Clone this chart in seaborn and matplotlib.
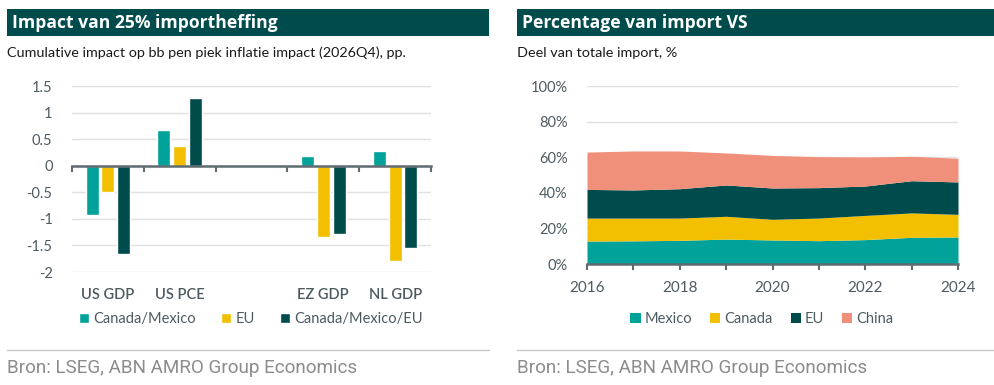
import matplotlib
matplotlib.use("Agg")
import matplotlib.pyplot as plt
import pandas as pd
import seaborn as sns
from matplotlib.patches import Rectangle
from matplotlib.lines import Line2D
from matplotlib.ticker import PercentFormatter, FixedLocator, MultipleLocator

# left chart: impact of 25% tariff, pp
variables = ["US GDP", "US PCE", "", "EZ GDP", "NL GDP"]
canada_mexico = [-0.93, 0.68, None, 0.18, 0.27]
eu = [-0.50, 0.37, None, -1.34, -1.79]
canada_mexico_eu = [-1.67, 1.28, None, -1.28, -1.55]
scenarios = ["Canada/Mexico", "EU", "Canada/Mexico/EU"]

# right chart: share of US imports, %
years = [2016, 2017, 2018, 2019, 2020, 2021, 2022, 2023, 2024]
mexico = [12.9, 13.0, 13.3, 14.0, 13.5, 13.1, 13.7, 15.0, 15.2]
canada = [12.9, 12.8, 12.5, 12.8, 11.6, 12.7, 13.6, 13.7, 12.7]
eu_share = [16.1, 15.8, 16.5, 17.6, 17.6, 17.1, 16.5, 18.1, 18.2]
china = [21.0, 21.9, 21.2, 18.0, 18.3, 17.4, 16.3, 13.7, 13.3]
regions = ["Mexico", "Canada", "EU", "China"]

TEAL = "#00a29a"
YELLOW = "#f2c000"
DARK = "#004b4b"
SALMON = "#f0907b"
TXT = "#4d5b61"
GRID = "#e0e0e0"

sns.set_theme(style="white")
plt.rcParams["font.family"] = ["Lato", "DejaVu Sans"]

W, H = 994, 385
fig = plt.figure(figsize=(W / 100, H / 100), dpi=100)

def fx(px):
    return px / W

def fy(px):
    return 1 - px / H

# header bars, subtitles, footers
for x0, x1, title, sub in [(7, 489, "Impact van 25% importheffing",
                            "Cumulative impact op bb pen piek inflatie impact (2026Q4), pp."),
                           (517, 994, "Percentage van import VS", "Deel van totale import, %")]:
    fig.add_artist(Rectangle((fx(x0), fy(36)), fx(x1 - x0), 27 / H, color=DARK, lw=0))
    fig.text(fx(x0 + 5), fy(22.5), title, color="white", fontsize=12.6, fontweight="bold",
             family=["Open Sans", "DejaVu Sans"], va="center", ha="left")
    fig.text(fx(x0), fy(53), sub, color="#1a1a1a", fontsize=10.4, va="center", ha="left")
    fig.add_artist(Line2D([fx(x0), fx(x1)], [fy(350), fy(350)], color="#c8c8c8", lw=1))
    fig.text(fx(x0), fy(368), "Bron: LSEG, ABN AMRO Group Economics", color="#8c8c8c",
             fontsize=13.6, family=["Roboto", "DejaVu Sans"], va="center", ha="left")

# ---- left: grouped bars
df = pd.DataFrame({"variable": variables * 3,
                   "scenario": [s for s in scenarios for _ in variables],
                   "value": canada_mexico + eu + canada_mexico_eu})
ax1 = fig.add_axes([fx(72), fy(272), fx(431 - 72), (272 - 86) / H])
sns.barplot(data=df, x="variable", y="value", hue="scenario", order=variables,
            hue_order=scenarios, palette=[TEAL, YELLOW, DARK], width=0.66, gap=0.18,
            saturation=1, errorbar=None, ax=ax1, zorder=3)
ax1.set_xlim(-0.5, len(variables) - 0.5)
ax1.set_ylim(-2, 1.5)
ax1.yaxis.set_major_locator(MultipleLocator(0.5))
ax1.yaxis.set_major_formatter(matplotlib.ticker.FuncFormatter(lambda v, p: f"{v:g}"))
ax1.grid(axis="y", color=GRID, lw=1, zorder=0)
for s in ["top", "right", "left"]:
    ax1.spines[s].set_visible(False)
ax1.spines["bottom"].set_position(("data", 0))
ax1.spines["bottom"].set_color("#5f6b70")
ax1.spines["bottom"].set_linewidth(1.8)
ax1.spines["bottom"].set_zorder(4)
ax1.xaxis.set_minor_locator(FixedLocator([i - 0.5 for i in range(len(variables) + 1)]))
ax1.tick_params(axis="x", which="minor", bottom=True, length=4, width=1.5, color="#5f6b70",
                direction="out")
ax1.tick_params(axis="x", which="major", bottom=True, length=0, pad=88, labelsize=10.5,
                labelcolor=TXT)
for lab in ax1.get_xticklabels():
    lab.set_fontweight("semibold")
ax1.tick_params(axis="y", length=0, pad=14, labelsize=10.5, labelcolor=TXT)
ax1.set_xlabel("")
ax1.set_ylabel("")
h, l = ax1.get_legend_handles_labels()
ax1.get_legend().remove()
fig.legend(h, l, loc="center", bbox_to_anchor=(fx(251), fy(319)), ncol=3, frameon=False,
           handlelength=0.7, handleheight=0.7, handletextpad=0.3, columnspacing=1.7,
           fontsize=10.5, labelcolor=TXT)

# ---- right: stacked area
ax2 = fig.add_axes([fx(587), fy(264), fx(958 - 587), (264 - 86) / H])
ax2.stackplot(years, mexico, canada, eu_share, china, colors=[TEAL, YELLOW, DARK, SALMON],
              labels=regions, lw=0, zorder=3)
ax2.set_xlim(years[0], years[-1])
ax2.set_ylim(0, 100)
ax2.yaxis.set_major_locator(MultipleLocator(20))
ax2.yaxis.set_major_formatter(PercentFormatter(decimals=0))
ax2.xaxis.set_major_locator(MultipleLocator(2))
ax2.xaxis.set_minor_locator(MultipleLocator(1))
ax2.grid(axis="y", color=GRID, lw=1, zorder=0)
for s in ["top", "right", "left"]:
    ax2.spines[s].set_visible(False)
ax2.spines["bottom"].set_color("#5f6b70")
ax2.spines["bottom"].set_linewidth(1.8)
ax2.spines["bottom"].set_zorder(4)
ax2.tick_params(axis="x", which="both", length=4, width=1.5, color="#5f6b70", direction="out",
                bottom=True)
ax2.tick_params(axis="x", which="major", pad=8, labelsize=11, labelcolor=TXT)
ax2.tick_params(axis="y", length=0, pad=14, labelsize=10.5, labelcolor=TXT)
h2, l2 = ax2.get_legend_handles_labels()
fig.legend(h2, l2, loc="center", bbox_to_anchor=(fx(762), fy(319)), ncol=4, frameon=False,
           handlelength=0.7, handleheight=0.7, handletextpad=0.3, columnspacing=1.2,
           fontsize=10.5, labelcolor=TXT)

fig.savefig("out.png", dpi=100)
